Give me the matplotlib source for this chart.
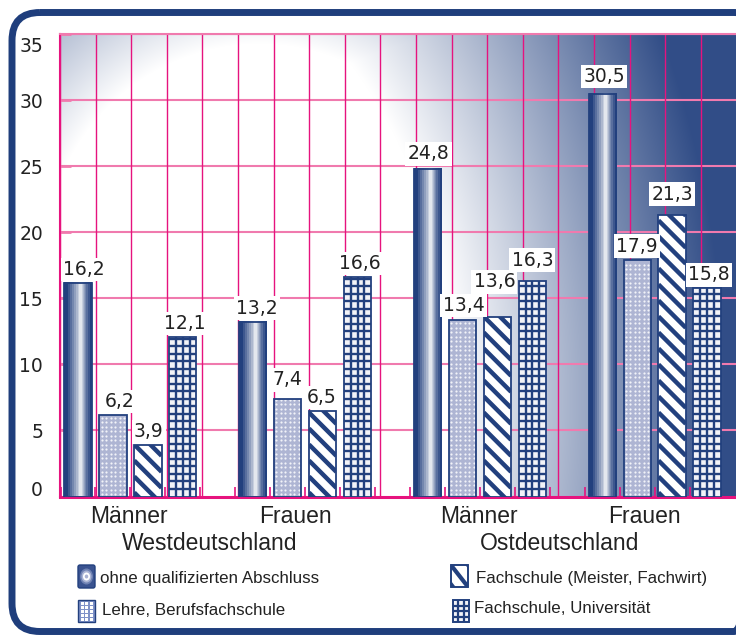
import numpy as np
import matplotlib
matplotlib.use('Agg')
import matplotlib.pyplot as plt
from matplotlib.patches import Rectangle, FancyBboxPatch, Ellipse
from matplotlib.collections import LineCollection
from matplotlib.transforms import blended_transform_factory
from matplotlib.colors import to_rgb

# Daten
gruppen = ['Männer', 'Frauen', 'Männer', 'Frauen']
regionen = ['Westdeutschland', 'Ostdeutschland']
serien = ['ohne qualifizierten Abschluss', 'Lehre, Berufsfachschule',
          'Fachschule (Meister, Fachwirt)', 'Fachschule, Universität']
ohne_abschluss = [16.2, 13.2, 24.8, 30.5]
lehre = [6.2, 7.4, 13.4, 17.9]
fachschule_meister = [3.9, 6.5, 13.6, 21.3]
fachschule_uni = [12.1, 16.6, 16.3, 15.8]
y_ticks = [0, 5, 10, 15, 20, 25, 30, 35]

# Versatz der Wertebeschriftungen in Pixel (dx, dy), je Serie und Gruppe
label_versatz = [
    [(6, 15), (4, 16), (1, 17), (2, 19)],
    [(7, 15), (0, 21), (1, 16), (0, 16)],
    [(1, 15), (-1, 15), (-3, 37), (0, 23)],
    [(2, 15), (2, 16), (0, 23), (2, 15)],
]

W, H = 736, 636
navy = '#22407e'
navy_rgb = np.array(to_rgb(navy))
pink_v = '#e6137e'
pink_h = '#f07aae'
text_col = '#222222'
ziffern = 'DejaVu Sans'
schrift = 'Liberation Sans'

fig = plt.figure(figsize=(W / 100, H / 100), dpi=100)
fig.patch.set_facecolor('white')
overlay = fig.add_axes([0, 0, 1, 1], zorder=0)
overlay.set_xlim(0, W)
overlay.set_ylim(H, 0)
overlay.axis('off')

ax_l, ax_r, ax_t, ax_b = 60, 736, 34.3, 496.5
ax = fig.add_axes([ax_l / W, 1 - ax_b / H, (ax_r - ax_l) / W, (ax_b - ax_t) / H], zorder=1)

pitch = 34.95      # Pixel je Balkenplatz
x_first = 78       # Mitte des ersten Balkens
xmin = (ax_l - x_first) / pitch
xmax = (ax_r - x_first) / pitch

# Hintergrundverlauf
gx, gy = np.meshgrid(np.arange(ax_l, ax_r) + 0.5, np.arange(ax_t, ax_b) + 0.5)
d1 = np.hypot(gx - 100, (gy - 400) * 0.75)
t1 = np.clip((d1 - 355) / 290, 0, 0.93)
d2 = np.hypot(gx - 260, gy - 260)
t2 = np.clip((d2 - 215) / 90, 0, 1) * 0.35 * np.clip((260 - gy) / 60, 0, 1)
t = np.maximum(t1, t2)[..., None]
bg = (1 - t) + t * navy_rgb
ax.imshow(bg, extent=(xmin, xmax, 0, 35), aspect='auto', origin='upper',
          zorder=0, interpolation='bilinear')

# Gitter
for yv in y_ticks[1:]:
    ax.axhline(yv, color=pink_h, lw=1.5, zorder=1)
for xv in np.arange(xmin, xmax, 35.6 / pitch):
    ax.axvline(xv, color=pink_v, lw=1.0, zorder=1)

# Zylinder-Profil
tt = np.linspace(0, 1, 60)
hl = 0.6
b = np.where(tt < hl, tt / hl, (1 - tt) / (1 - hl))
b = np.floor(b ** 1.3 * 8) / 8
zyl = b[:, None] * 1 + (1 - b[:, None]) * navy_rgb
zyl = zyl[None, :, :]

werte = [ohne_abschluss, lehre, fachschule_meister, fachschule_uni]
bw = 27.3 / pitch
py = 13.2  # Pixel je Einheit y
for s, serie in enumerate(werte):
    for g, v in enumerate(serie):
        xc = 5 * g + s
        x0, x1 = xc - bw / 2, xc + bw / 2
        rand = Rectangle((x0, 0), bw, v, fill=False, ec=navy, lw=1.3, zorder=5)
        if s == 0:
            ax.imshow(zyl, extent=(x0, x1, 0, v), aspect='auto', zorder=3,
                      interpolation='nearest')
        elif s == 1:
            grund = Rectangle((x0, 0), bw, v, fc='#aeb5d3', ec='none', zorder=3)
            ax.add_patch(grund)
            xs = np.arange(x0 + 2.3 / pitch, x1, 4.5 / pitch)
            ys = np.arange(2.3 / py, v, 4.5 / py)
            mx, my = np.meshgrid(xs, ys)
            pts = ax.scatter(mx.ravel(), my.ravel(), s=2.5, c='white', lw=0,
                             alpha=0.85, zorder=4)
            pts.set_clip_path(grund)
        elif s == 2:
            grund = Rectangle((x0, 0), bw, v, fc='white', ec='none', zorder=3)
            ax.add_patch(grund)
            dy = bw * pitch / py
            segs = [[(x0, o), (x1, o - dy)] for o in np.arange(0.3, v + dy + 1.3, 16 / py)]
            lc = LineCollection(segs, colors=navy, lw=3.2, zorder=4)
            ax.add_collection(lc)
            lc.set_clip_path(grund)
        else:
            grund = Rectangle((x0, 0), bw, v, fc='#f2f3f8', ec='none', zorder=3)
            ax.add_patch(grund)
            segs = [[(x0 + j * bw / 4, 0), (x0 + j * bw / 4, v)] for j in range(1, 4)]
            segs += [[(x0, yy), (x1, yy)] for yy in np.arange(7.5 / py, v, 7.5 / py)]
            lc = LineCollection(segs, colors=navy, lw=1.7, zorder=4)
            ax.add_collection(lc)
            lc.set_clip_path(grund)
        ax.add_patch(rand)
        dx, dyl = label_versatz[s][g]
        ax.annotate(f'{v:.1f}'.replace('.', ','), xy=(xc, v), xytext=(dx, dyl - 2),
                    textcoords='offset pixels', ha='center', va='center',
                    fontsize=13.5, family=ziffern, color=text_col, zorder=6,
                    bbox=dict(boxstyle='square,pad=0.12', fc='white', ec='none'))

ax.set_xlim(xmin, xmax)
ax.set_ylim(0, 35)

# Achsen
ax.set_xticks(np.arange(0, 19) - 0.5)
ax.tick_params(axis='x', direction='in', length=7, width=1.2, color=pink_v,
               labelbottom=False)
ax.set_yticks(y_ticks)
ax.tick_params(axis='y', direction='in', length=8, width=2, color=pink_h,
               labelleft=False)
ax.spines['right'].set_visible(False)
ax.spines['left'].set_color(pink_v)
ax.spines['left'].set_linewidth(1.5)
ax.spines['top'].set_color(pink_h)
ax.spines['top'].set_linewidth(1.5)
ax.spines['bottom'].set_color(pink_v)
ax.spines['bottom'].set_linewidth(2.2)

for yv in y_ticks:
    shift = -10 if yv == y_ticks[-1] else (8 if yv == 0 else 0)
    ax.annotate(str(yv), xy=(0, yv), xycoords=('axes fraction', 'data'),
                xytext=(-17, shift - 2), textcoords='offset pixels',
                ha='right', va='center', fontsize=13.5, family=ziffern,
                color=text_col, annotation_clip=False)

# Gruppen- und Regionsbeschriftung
trans = blended_transform_factory(ax.transData, overlay.transData)
for g, name in enumerate(gruppen):
    shift = -1 if name == 'Männer' else -10
    overlay.text(5 * g + 1.5 + shift / pitch, 522.7, name, transform=trans,
                 ha='center', va='baseline', fontsize=16.5, family=schrift,
                 color=text_col)
for r, name in enumerate(regionen):
    overlay.text(10 * r + 4 - 8 / pitch, 549.5, name, transform=trans,
                 ha='center', va='baseline', fontsize=16.5, family=schrift,
                 color=text_col)

# Rahmen (rechte Kante liegt ausserhalb des Bildes)
overlay.add_patch(FancyBboxPatch((12, 12.5), 750, 619,
                                 boxstyle='round,pad=0,rounding_size=28',
                                 fill=False, ec='#1f3e7c', lw=5))

# Legende
# 1: Zylinder-Symbol
overlay.add_patch(FancyBboxPatch((78, 565), 17, 23, boxstyle='round,pad=0,rounding_size=2',
                                 fc='#3a5390', ec=navy, lw=1))
for (ew, eh, fc) in [(13, 16, '#6f82b3'), (10, 12, '#aab4d5'), (7, 8, 'white'), (3.5, 4, '#a9b2d2')]:
    overlay.add_patch(Ellipse((86.5, 576.5), ew, eh, fc=fc, ec='none'))
# 2: Punkte
overlay.add_patch(Rectangle((78, 600), 17, 22, fc='#7f92c8', ec=navy, lw=1))
for i in range(3):
    for j in range(5):
        overlay.add_patch(Rectangle((80.5 + i * 4.5, 602 + j * 4), 3, 2.6, fc='white', ec='none'))
# 3: Streifen
streifen = Rectangle((451, 565), 17, 22, fc='white', ec=navy, lw=1.2)
overlay.add_patch(streifen)
lc = LineCollection([[(447, 560), (472, 592)], [(440, 570), (460, 596)], [(458, 552), (478, 578)]],
                    colors=navy, lw=3)
overlay.add_collection(lc)
lc.set_clip_path(streifen)
overlay.add_patch(Rectangle((451, 565), 17, 22, fill=False, ec=navy, lw=1.2))
# 4: Gitter
gitter = Rectangle((453, 600), 16, 22, fc='#f2f3f8', ec=navy, lw=1.4)
overlay.add_patch(gitter)
gl = [[(453 + k * 16 / 3, 600), (453 + k * 16 / 3, 622)] for k in (1, 2)]
gl += [[(453, 600 + k * 5.5), (469, 600 + k * 5.5)] for k in (1, 2, 3)]
overlay.add_collection(LineCollection(gl, colors=navy, lw=1.6))

legend_pos = [(100.5, 582.7), (101.5, 615), (476, 582.7), (474, 613.3)]
for name, (lx, ly) in zip(serien, legend_pos):
    overlay.text(lx, ly, name, ha='left', va='baseline', fontsize=12.2,
                 family=schrift, color=text_col)

fig.savefig('out.png', dpi=100, facecolor='white')
